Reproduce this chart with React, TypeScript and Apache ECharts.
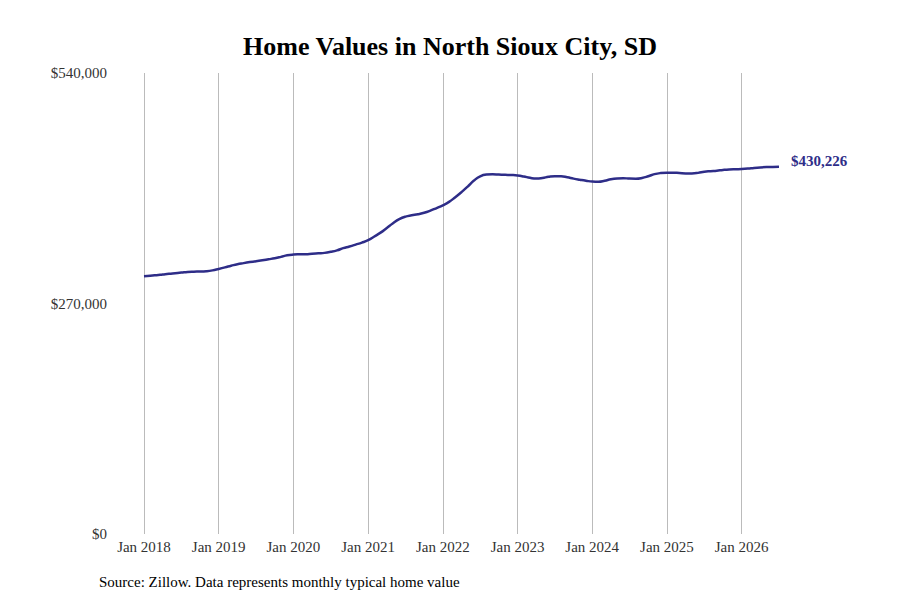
import React, { useEffect, useRef } from 'react';
import * as echarts from 'echarts';

const monthNames = ['Jan', 'Feb', 'Mar', 'Apr', 'May', 'Jun', 'Jul', 'Aug', 'Sep', 'Oct', 'Nov', 'Dec'];
const years = [2018, 2019, 2020, 2021, 2022, 2023, 2024, 2025, 2026];

const values = [
  302000, 302500, 303200, 304000, 304800, 305500, 306200, 307000, 307300, 307400, 307800, 308800,
  310500, 312300, 314200, 316000, 317300, 318500, 319600, 320600, 321800, 323000, 324600, 326400,
  327300, 327600, 327700, 328300, 328800, 329300, 330500, 332200, 334800, 336800, 339000, 341300,
  344200, 348500, 353000, 358500, 364000, 368800, 371800, 373300, 374500, 376300, 378800, 381800,
  385000, 389000, 394500, 400500, 407000, 414000, 419000, 421000, 421300, 421000, 420700, 420500,
  420000, 418800, 417200, 416300, 417000, 418500, 419200, 419000, 417800, 416300, 415000, 413800,
  412800, 412600, 413700, 415500, 416500, 416800, 416300, 416200, 417000, 419000, 421500, 422800,
  423200, 423200, 422800, 422400, 422400, 423000, 424300, 425000, 425600, 426400, 427000, 427300,
  427500, 428000, 428800, 429400, 429800, 430000, 430226,
];

const categories = values.map((_, i) => `${monthNames[i % 12]} ${years[Math.floor(i / 12)]}`);

const font = 'Liberation Serif';

const App: React.FC = () => {
  const ref = useRef<HTMLDivElement>(null);

  useEffect(() => {
    if (!ref.current) return;
    const chart = echarts.init(ref.current, undefined, { renderer: 'svg' });
    chart.setOption({
      animation: false,
      backgroundColor: '#fff',
      title: {
        text: 'Home Values in North Sioux City, SD',
        left: 'center',
        top: 28,
        textStyle: { fontFamily: font, fontSize: 26, fontWeight: 'bold', color: '#000' },
      },
      grid: { left: 144, right: 121, top: 73, bottom: 66 },
      xAxis: {
        type: 'category',
        data: categories,
        boundaryGap: false,
        axisLine: { show: false },
        axisTick: { show: false },
        axisLabel: {
          interval: (i: number) => i % 12 === 0,
          fontFamily: font,
          fontSize: 15,
          color: '#333',
          margin: 5,
        },
        splitLine: {
          show: true,
          interval: (i: number) => i % 12 === 0,
          lineStyle: { color: '#bbb', width: 1 },
        },
      },
      yAxis: {
        type: 'value',
        min: 0,
        max: 540000,
        interval: 270000,
        splitLine: { show: false },
        axisLine: { show: false },
        axisTick: { show: false },
        axisLabel: {
          fontFamily: font,
          fontSize: 15,
          color: '#333',
          margin: 37,
          formatter: (v: number) => '$' + v.toLocaleString('en-US'),
        },
      },
      series: [
        {
          type: 'line',
          data: values,
          smooth: true,
          symbol: 'none',
          lineStyle: { color: '#2e2d88', width: 2.5 },
          endLabel: {
            show: true,
            distance: 12,
            offset: [0, -6],
            formatter: (p: any) => '$' + Number(p.value).toLocaleString('en-US'),
            fontFamily: font,
            fontSize: 15,
            fontWeight: 'bold',
            color: '#2e2d88',
          },
        },
      ],
      graphic: [
        {
          type: 'text',
          left: 99,
          top: 574,
          style: {
            text: 'Source: Zillow. Data represents monthly typical home value',
            fontFamily: font,
            fontSize: 15,
            fill: '#000',
          },
        },
      ],
    });
    return () => chart.dispose();
  }, []);

  return <div ref={ref} style={{ width: 900, height: 600, margin: -8 }} />;
};

export default App;
